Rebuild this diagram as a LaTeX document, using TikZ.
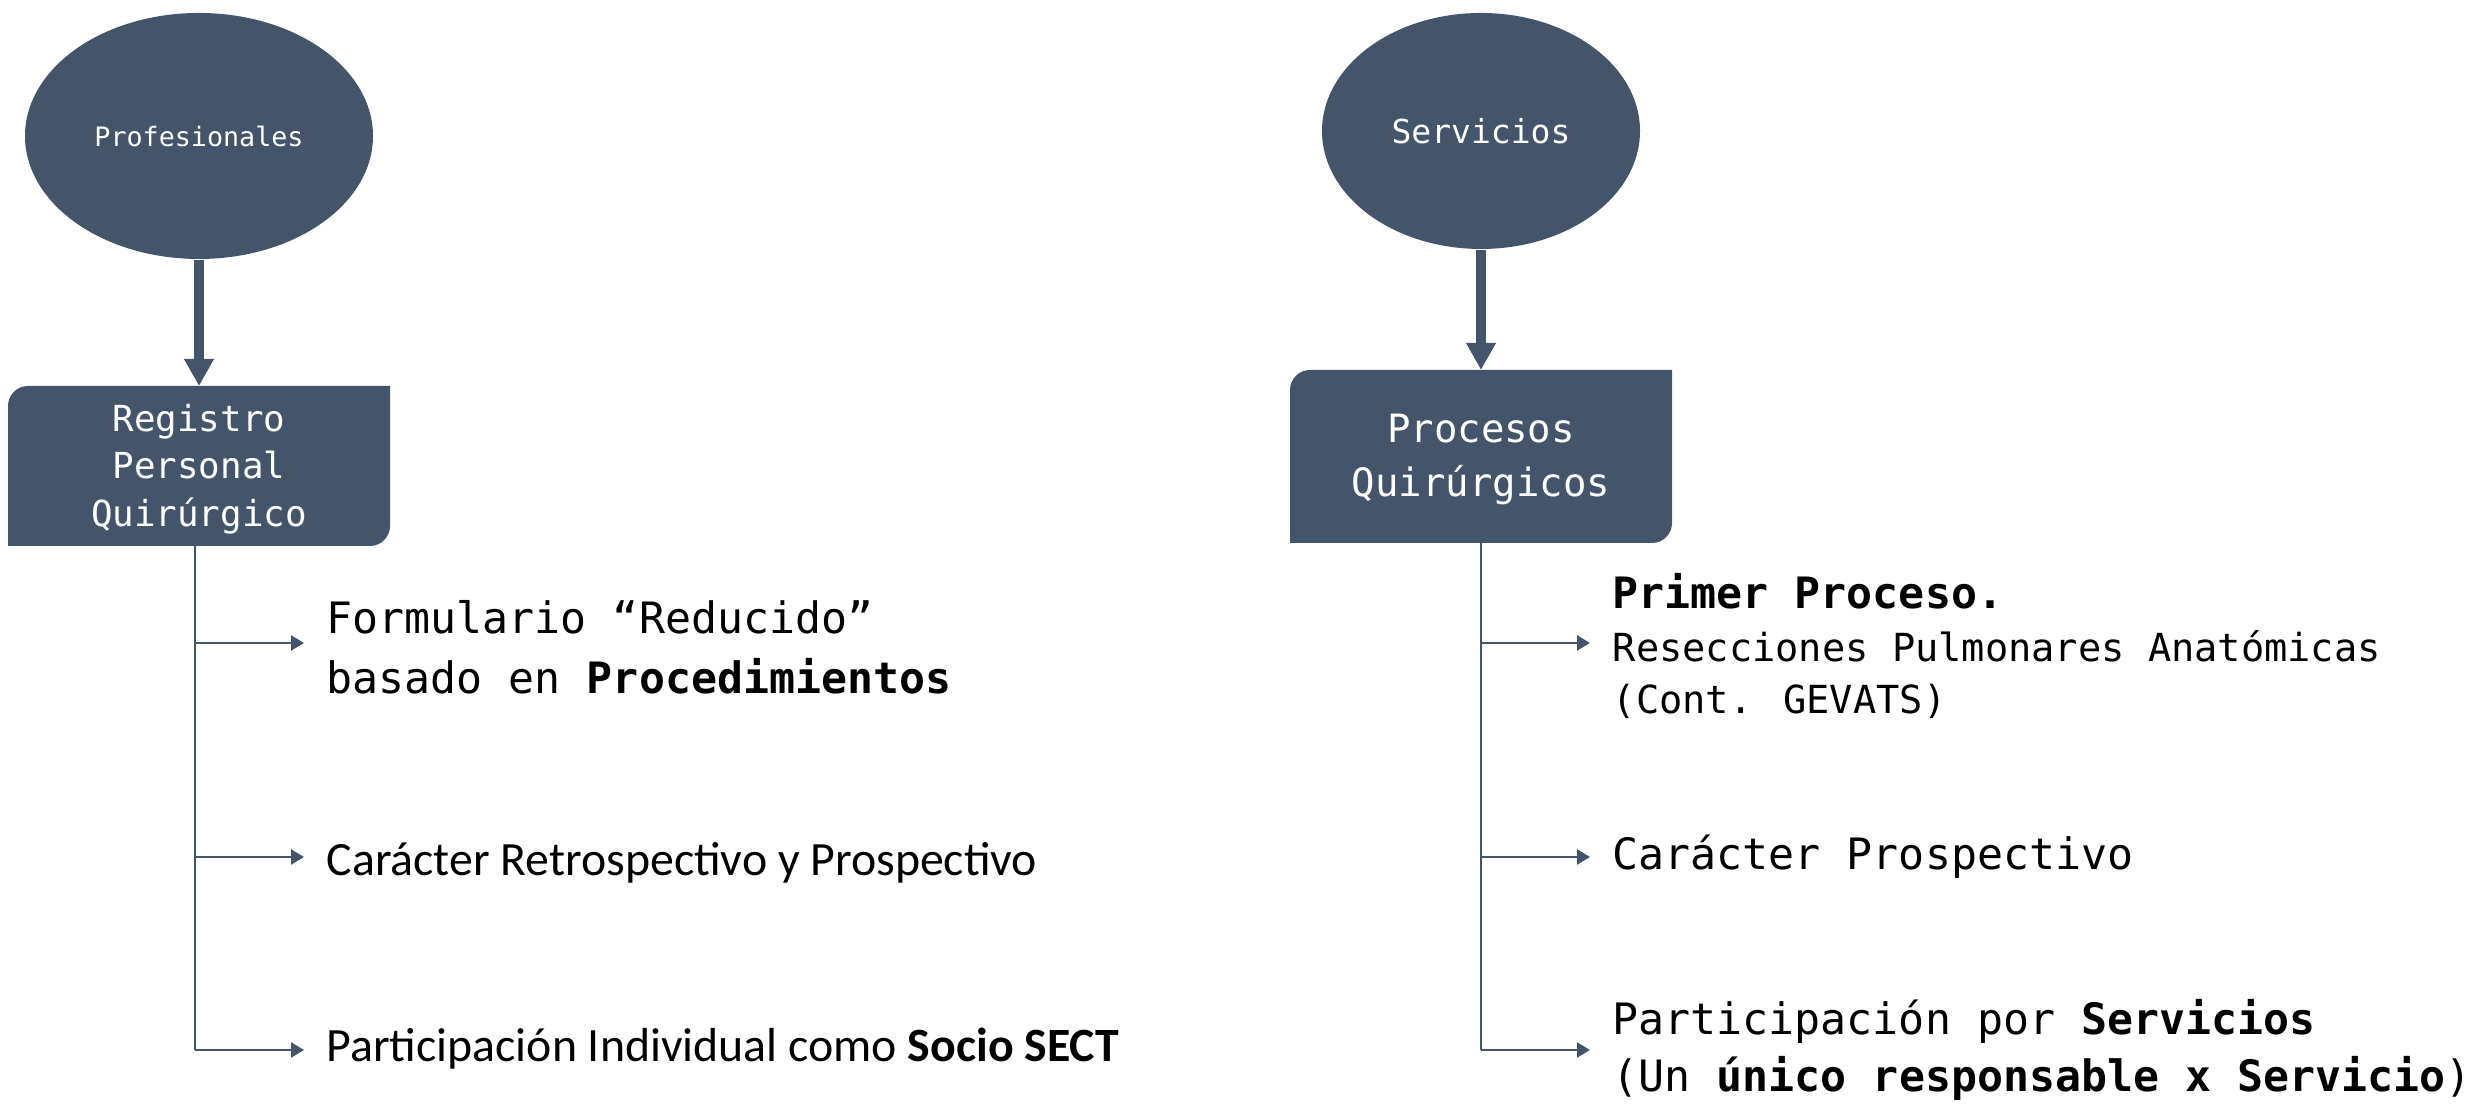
\documentclass[tikz,border=0pt]{standalone}
\usepackage{fontspec}
\setmainfont{Carlito}
\newfontfamily\monofont{DejaVu Sans Mono}
\usetikzlibrary{arrows.meta,positioning,shapes.geometric,backgrounds}
\definecolor{slate}{HTML}{44546A}

\begin{document}
\begin{tikzpicture}[
    blob/.style={ellipse, fill=slate, text=white, inner sep=0pt, font=\monofont},
    regbox/.style={rectangle, text=white, align=center, inner sep=0pt, font=\monofont},
    bigarrow/.style={slate, line width=2.6pt, -{Triangle[width=0.28cm,length=0.27cm]}},
    branch/.style={slate, line width=0.7pt, -{Triangle[width=0.15cm,length=0.13cm]}},
    item/.style={anchor=west, inner sep=0pt, align=left}
]
    \useasboundingbox (0,0) rectangle (24.83,11.04);

    % Left column
    \node[blob, minimum width=3.48cm, minimum height=2.46cm, font=\monofont\fontsize{7.6}{9}\selectfont] (prof) at (1.99,9.68) {Profesionales};
    \node[regbox, minimum width=3.82cm, minimum height=1.60cm, font=\monofont\fontsize{10.2}{13.5}\selectfont] (reg) at (1.99,6.35) {Registro\\Personal\\Quirúrgico};
    \draw[bigarrow] (prof) -- (reg.north |- 0,7.18);

    \coordinate (lt1) at (1.95,4.61);
    \coordinate (lt2) at (1.95,2.47);
    \coordinate (lt3) at (1.95,0.54);
    \node[item, font=\monofont\fontsize{12.3}{17}\selectfont] (form) at (3.26,4.57) {Formulario “Reducido”\\basado en \textbf{Procedimientos}};
    \node[item, font=\fontsize{13.6}{16}\selectfont] (retro) at (3.26,2.41) {Carácter Retrospectivo y Prospectivo};
    \node[item, font=\fontsize{13.6}{16}\selectfont] (socio) at (3.26,0.55) {Participación Individual como \textbf{Socio SECT}};

    \draw[slate, line width=0.7pt] (lt1 |- 0,5.58) -- (lt3);
    \draw[branch] (lt1) -- (3.04,4.61);
    \draw[branch] (lt2) -- (3.04,2.47);
    \draw[branch] (lt3) -- (3.04,0.54);

    % Right column
    \node[blob, minimum width=3.18cm, minimum height=2.36cm, font=\monofont\fontsize{9.4}{11}\selectfont] (serv) at (14.81,9.73) {Servicios};
    \node[regbox, minimum width=3.82cm, minimum height=1.73cm, font=\monofont\fontsize{11.1}{15.1}\selectfont] (proc) at (14.81,6.445) {Procesos\\Quirúrgicos};
    \draw[bigarrow] (serv) -- (proc.north |- 0,7.34);

    \coordinate (rt1) at (14.81,4.61);
    \coordinate (rt2) at (14.81,2.47);
    \coordinate (rt3) at (14.81,0.54);
    \node[item, font=\monofont\fontsize{11}{14.8}\selectfont] (prim) at (16.12,4.58) {{\fontsize{12.3}{14.8}\selectfont\textbf{Primer Proceso.}}\\Resecciones Pulmonares Anatómicas\\(Cont. GEVATS)};
    \node[item, font=\monofont\fontsize{12.3}{16}\selectfont] (prosp) at (16.12,2.47) {Carácter Prospectivo};
    \node[item, font=\monofont\fontsize{12.3}{16.2}\selectfont] (partic) at (16.12,0.54) {Participación por \textbf{Servicios}\\(Un \textbf{único responsable x Servicio})};

    \draw[slate, line width=0.7pt] (rt1 |- 0,5.61) -- (rt3);
    \draw[branch] (rt1) -- (15.90,4.61);
    \draw[branch] (rt2) -- (15.90,2.47);
    \draw[branch] (rt3) -- (15.90,0.54);

    % Box shapes (round top left and bottom right)
    \begin{scope}[on background layer]
        \fill[slate] (0.08,5.58) -- (0.08,6.98) arc[start angle=180, end angle=90, radius=0.2] -- (3.90,7.18) -- (3.90,5.78) arc[start angle=0, end angle=-90, radius=0.2] -- cycle;
        \fill[slate] (12.90,5.61) -- (12.90,7.14) arc[start angle=180, end angle=90, radius=0.2] -- (16.72,7.34) -- (16.72,5.81) arc[start angle=0, end angle=-90, radius=0.2] -- cycle;
    \end{scope}
\end{tikzpicture}
\end{document}
